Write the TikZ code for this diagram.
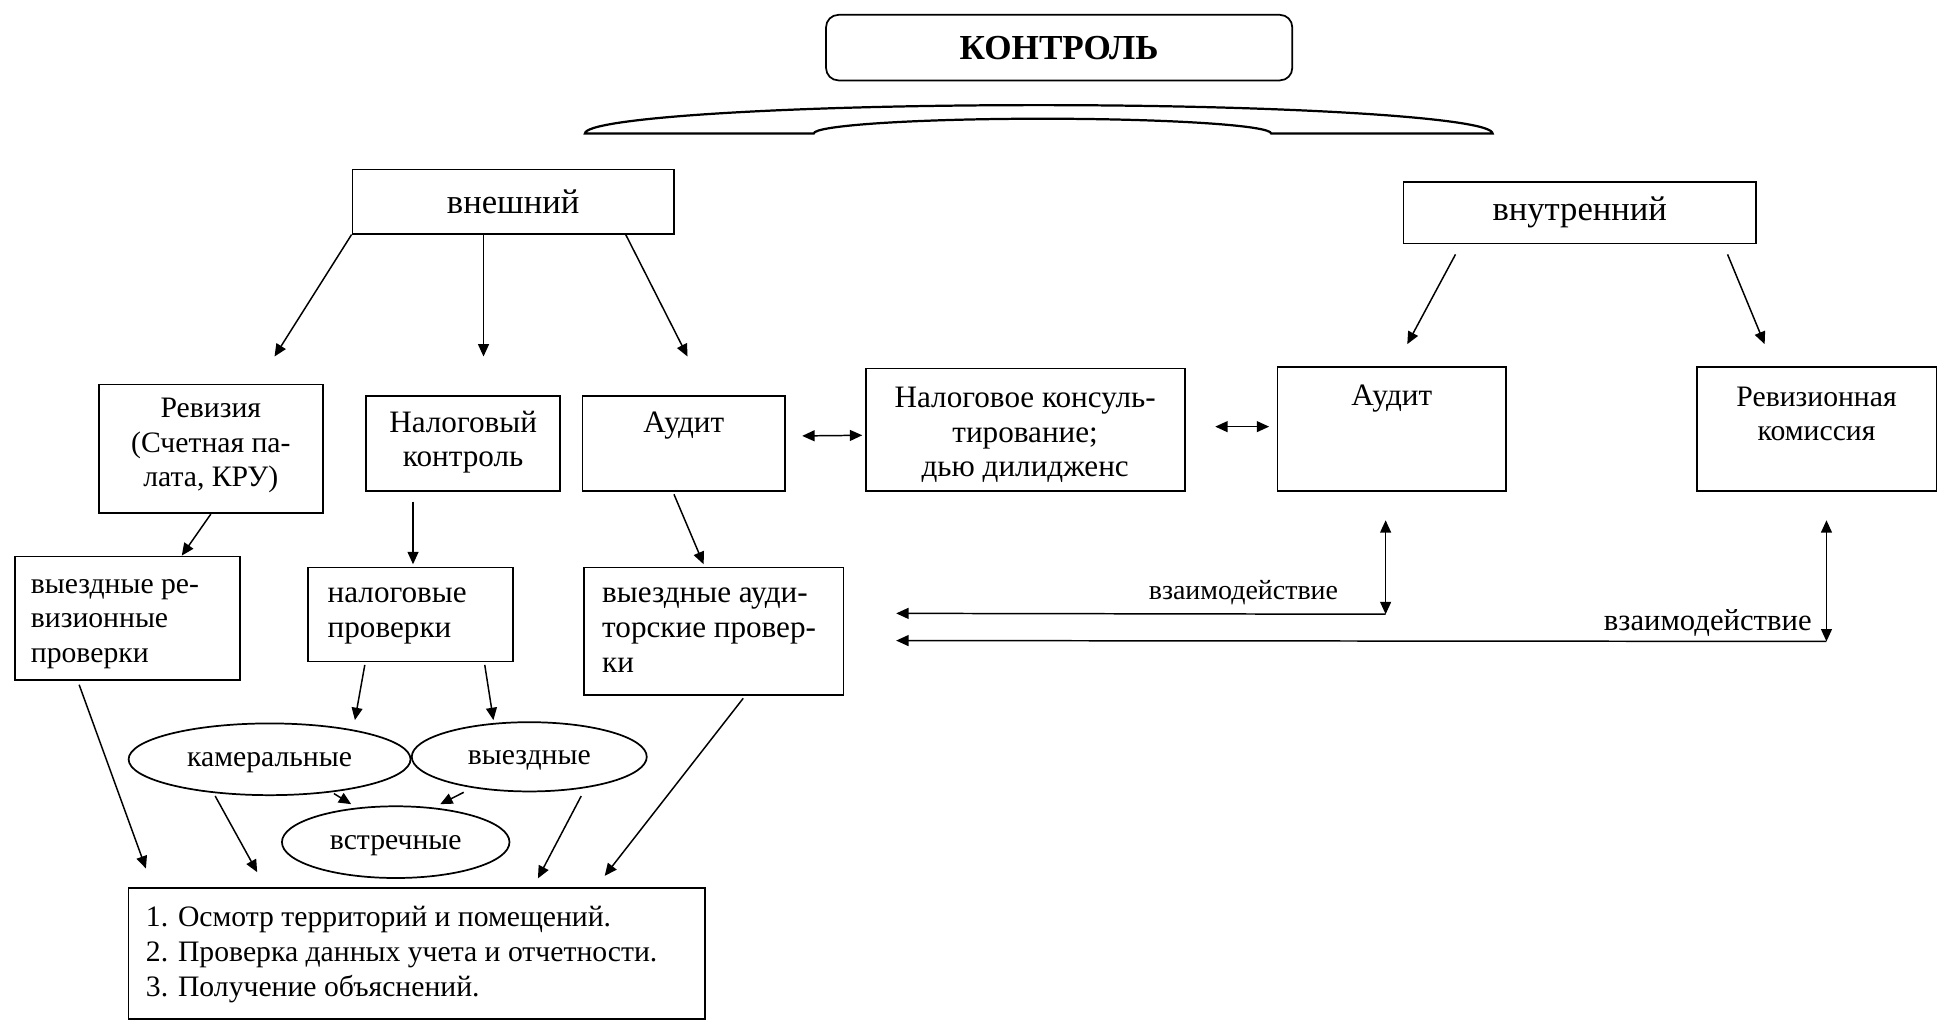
\documentclass[tikz,border=0pt]{standalone}
\usepackage{fontspec}
\setmainfont{Liberation Serif}
\usetikzlibrary{arrows.meta,calc,shapes.geometric}
\newcommand{\tbox}[4]{\parbox[c][#2][t]{#1}{\vspace*{#3}#4}}
\tikzset{
  box/.style={draw, line width=0.7pt, inner sep=0pt, font=\fontsize{12pt}{14pt}\selectfont},
  bigger/.style={font=\fontsize{12.6pt}{14pt}\selectfont},
  oval/.style={draw, ellipse, line width=0.7pt, inner sep=0pt, text height=6pt, text depth=0pt, font=\fontsize{12pt}{14pt}\selectfont},
  arr/.style={line width=0.6pt, -{Triangle[length=5pt,width=4.4pt]}},
  darr/.style={line width=0.6pt, {Triangle[length=5pt,width=4.4pt]}-{Triangle[length=5pt,width=4.4pt]}},
  lbl/.style={inner sep=0pt},
}
\begin{document}
\begin{tikzpicture}[x=0.5pt,y=-0.5pt]
\useasboundingbox (0,0) rectangle (1568,826);
% title
\node[box, rounded corners=5pt, minimum width=188.5pt, minimum height=26.5pt,
      font=\bfseries\fontsize{14.2pt}{16pt}\selectfont] (kontrol) at (856.5,38.5) {КОНТРОЛЬ};
% bracket
\draw[line width=0.9pt, fill=white] (473,108) .. controls (473,95.3) and (637.4,85) .. (840,85)
  .. controls (1042.6,85) and (1207,95.3) .. (1207,108) -- (1028,108)
  .. controls (1028,101.4) and (945.1,96) .. (843,96)
  .. controls (740.9,96) and (658,101.4) .. (658,108) -- cycle;
% level 1
\node[box, minimum width=130pt, minimum height=26pt, font=\fontsize{14pt}{16pt}\selectfont] (vnesh) at (415,163) {внешний};
\node[box, minimum width=142.5pt, minimum height=25pt, font=\fontsize{14pt}{16pt}\selectfont] (vnutr) at (1277.5,172) {внутренний};
% level 2
\node[box] (rev) at (170.5,363) {\tbox{90.5pt}{52pt}{3.5pt}{\centering\strut Ревизия\\(Счетная па-\\лата, КРУ)}};
\node[box, bigger] (nalk) at (374.5,358.5) {\tbox{78.5pt}{38.5pt}{5pt}{\centering\strut Налоговый\\контроль}};
\node[box, bigger] (audL) at (553,358.5) {\tbox{82pt}{38.5pt}{5pt}{\centering\strut Аудит}};
\node[box, bigger] (nkons) at (829,347.5) {\tbox{129pt}{49.5pt}{6pt}{\centering\strut Налоговое консуль-\\тирование;\\дью дилидженс}};
\node[box, bigger] (audR) at (1125.5,347) {\tbox{92.5pt}{50pt}{5.5pt}{\centering\strut Аудит}};
\node[box] (revk) at (1469,347) {\tbox{97pt}{50pt}{6pt}{\centering\strut Ревизионная\\комиссия}};
% level 3
\node[box] (vyrev) at (103,500) {\tbox{91pt}{50pt}{5pt}{\raggedright\leftskip=6.5pt\strut выездные ре-\\визионные\\проверки}};
\node[box, bigger] (nalpr) at (332,497) {\tbox{83pt}{38pt}{4.5pt}{\raggedright\leftskip=8pt\strut налоговые\\проверки}};
\node[box, bigger] (vyaud) at (577,510.5) {\tbox{105pt}{51.5pt}{4.5pt}{\raggedright\leftskip=7.5pt\strut выездные ауди-\\торские провер-\\ки}};
% ellipses
\node[oval, minimum width=114pt, minimum height=29pt] (kam) at (218,614) {камеральные};
\node[oval, minimum width=95pt, minimum height=28pt] (vyezd) at (428,612) {выездные};
\node[oval, minimum width=92pt, minimum height=29pt] (vstr) at (320,681) {встречные};
% bottom
\node[box] (bottom) at (337,771) {\tbox{233pt}{53pt}{6pt}{\raggedright\leftskip=7pt\strut 1. Осмотр территорий и помещений.\\2. Проверка данных учета и отчетности.\\3. Получение объяснений.}};
% labels
\node[lbl, font=\fontsize{11.3pt}{13pt}\selectfont] (lab1) at (1005.5,479) {взаимодействие};
\node[lbl, font=\fontsize{12.4pt}{14pt}\selectfont] (lab2) at (1381,503.5) {взаимодействие};
% arrows from level 1
\draw[arr] (vnesh.south west) -- ($(rev.north)+(51.5,-22)$);
\draw[arr] ($(vnesh.south)+(-24,0)$) -- ($(nalk.north)+(16.5,-31)$);
\draw[arr] ($(vnesh.south)+(91,0)$) -- ($(audL.north)+(3,-31)$);
\draw[arr] ($(vnutr.south)+(-100.5,8)$) -- ($(audR.north)+(12.5,-18)$);
\draw[arr] ($(vnutr.south)+(119.5,8)$) -- ($(revk.north)+(-42,-18)$);
% horizontal double arrows
\draw[darr] ($(audL.east)+(13,-6)$) -- ($(nkons.west)+(-2,4.5)$);
\draw[darr] ($(nkons.east)+(24,-2.5)$) -- ($(audR.west)+(-6,-2)$);
% level 2 -> 3
\draw[arr] (rev.south) -- ($(vyrev.north)+(44,0)$);
\draw[arr] ($(nalk.south)+(-40.5,8)$) -- ($(nalpr.north)+(2,-2)$);
\draw[arr] ($(audL.south)+(-8,2)$) -- ($(vyaud.north)+(-8,-2)$);
% to ellipses
\draw[arr] ($(nalpr.south)+(-37,2)$) -- ($(kam.north)+(69,-2)$);
\draw[arr] ($(nalpr.south)+(60,2)$) -- ($(vyezd.north)+(-29,-1)$);
\draw[arr] ($(kam.south)+(52,-2)$) -- ($(vstr.north)+(-36,-1)$);
\draw[arr] ($(vyezd.south)+(-53,0)$) -- ($(vstr.north)+(36,-1)$);
% to bottom
\draw[arr] ($(vyrev.south)+(-39,3)$) -- ($(bottom.north)+(-219,-15)$);
\draw[arr] ($(kam.south)+(-44,0)$) -- ($(bottom.north)+(-129,-12)$);
\draw[arr] ($(vyezd.south)+(42,3)$) -- ($(bottom.north)+(98,-7)$);
\draw[arr] ($(vyaud.south)+(24,2)$) -- ($(bottom.north)+(152,-9)$);
% interaction
\coordinate (j1) at ($(audR.south)+(-5,99)$);
\coordinate (j2) at ($(revk.south)+(8,121)$);
\draw[darr] ($(audR.south)+(-5,23)$) -- (j1);
\draw[arr] (j1) -- ($(vyaud.east)+(42,-14.5)$);
\draw[darr] ($(revk.south)+(8,23)$) -- (j2);
\draw[arr] (j2) -- ($(vyaud.east)+(42,7.5)$);
\end{tikzpicture}
\end{document}
